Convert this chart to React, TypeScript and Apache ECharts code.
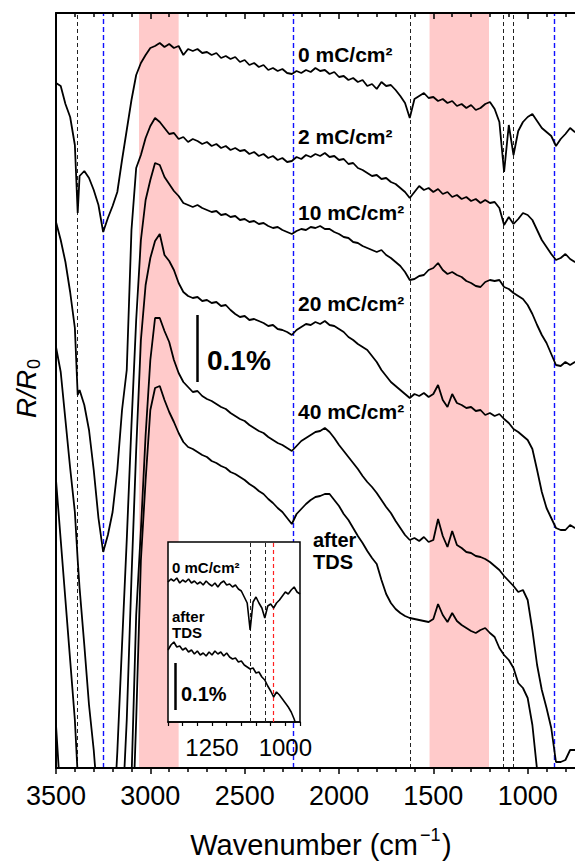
import React, { useEffect, useRef } from "react";
import * as echarts from "echarts";

// ---------------- data ----------------
// wavenumber grid (cm^-1) shared by the six main spectra
const wavenumbers = [
  3500, 3475, 3450, 3425, 3400, 3385, 3375, 3350, 3325, 3300, 3275, 3250, 3225, 3200, 3175, 3150,
  3125, 3100, 3075, 3050, 3025, 3000, 2975, 2950, 2925, 2900, 2875, 2850, 2825, 2800, 2775, 2750,
  2725, 2700, 2675, 2650, 2625, 2600, 2575, 2550, 2525, 2500, 2475, 2450, 2425, 2400, 2375, 2350,
  2325, 2300, 2275, 2250, 2225, 2200, 2175, 2150, 2125, 2100, 2075, 2050, 2025, 2000, 1975, 1950,
  1925, 1900, 1875, 1850, 1825, 1800, 1775, 1750, 1725, 1700, 1675, 1650, 1625, 1600, 1575, 1550,
  1525, 1500, 1475, 1450, 1425, 1400, 1375, 1350, 1325, 1300, 1275, 1250, 1225, 1200, 1175, 1150,
  1125, 1100, 1075, 1050, 1025, 1000, 975, 950, 925, 900, 875, 850, 825, 800, 775, 750, 725,
];

// offset R/R0 spectra (arbitrary offset units; 67 units = 0.1 %)
const spec0mC = [
  685, 682, 664, 651, 623, 555, 592, 597, 590, 578, 563, 536, 550, 562, 576, 608, 638, 668, 693, 705,
  713, 720, 722, 725, 721, 724, 720, 722, 713, 719, 717, 719, 715, 716, 713, 715, 710, 712, 709, 711,
  706, 708, 703, 705, 701, 703, 698, 700, 697, 699, 695, 694, 697, 695, 698, 696, 700, 697, 698, 694,
  696, 691, 692, 688, 690, 686, 688, 682, 684, 679, 686, 682, 683, 678, 672, 665, 650, 669, 672, 675,
  670, 671, 667, 669, 665, 667, 662, 664, 660, 663, 658, 660, 664, 666, 659, 646, 596, 643, 613, 637,
  646, 651, 654, 647, 640, 636, 632, 622, 629, 634, 640, 636, 638,
];
const spec2mC = [
  546, 528, 506, 476, 440, 373, 378, 363, 338, 298, 250, 216, 233, 256, 298, 358, 398, 538, 600, 613,
  630, 642, 650, 646, 640, 634, 635, 629, 631, 626, 629, 627, 624, 626, 622, 624, 620, 622, 618, 620,
  617, 618, 614, 616, 612, 614, 610, 612, 608, 610, 606, 607, 611, 609, 613, 611, 614, 612, 615, 611,
  612, 608, 609, 604, 605, 600, 598, 595, 592, 593, 589, 590, 586, 584, 580, 576, 570, 576, 582, 578,
  580, 576, 579, 574, 576, 571, 573, 569, 571, 567, 569, 565, 568, 565, 566, 560, 543, 551, 544, 549,
  555, 553, 548, 538, 528, 521, 514, 508, 510, 514, 509, 506, 508,
];
const spec10mC = [
  421, 396, 348, 300, 256, 208, 180, 123, 63, 18, -42, -82, -92, -72, 16, 123, 228, 343, 448, 528,
  568, 588, 605, 603, 591, 584, 577, 572, 565, 563, 561, 563, 560, 558, 556, 557, 553, 554, 551, 552,
  548, 549, 546, 547, 544, 545, 542, 540, 541, 538, 536, 534, 537, 539, 538, 541, 540, 542, 539, 539,
  536, 534, 531, 530, 526, 525, 522, 520, 518, 516, 518, 513, 510, 506, 502, 496, 488, 489, 492, 493,
  498, 500, 505, 498, 494, 496, 493, 491, 487, 485, 482, 481, 486, 488, 487, 488, 481, 479, 475, 472,
  469, 463, 454, 443, 433, 425, 414, 403, 402, 406, 403, 406, 404,
];
const spec20mC = [
  288, 228, 168, 108, 48, -7, -32, -72, -72, -72, -72, -72, -72, -72, -72, -52, 48, 190, 318, 428,
  483, 510, 527, 534, 513, 507, 498, 485, 476, 472, 470, 471, 467, 468, 465, 466, 462, 463, 458, 454,
  451, 452, 448, 449, 447, 445, 442, 443, 439, 438, 436, 433, 438, 441, 444, 443, 446, 444, 447, 443,
  442, 439, 436, 431, 428, 424, 421, 418, 412, 406, 398, 392, 386, 382, 378, 374, 370, 374, 372, 375,
  371, 374, 383, 368, 361, 374, 365, 363, 360, 361, 357, 358, 353, 355, 352, 354, 349, 345, 339, 336,
  332, 328, 319, 298, 276, 260, 250, 240, 238, 238, 243, 240, 242,
];
const spec40mC = [
  43, -32, -92, -92, -92, -92, -92, -92, -92, -92, -92, -92, -92, -92, -92, -92, -92, -12, 153, 238,
  333, 408, 450, 450, 437, 426, 408, 395, 386, 381, 376, 377, 372, 369, 367, 364, 361, 359, 355, 352,
  349, 347, 343, 340, 337, 335, 331, 328, 325, 323, 320, 317, 322, 327, 330, 333, 336, 337, 340, 336,
  330, 323, 317, 311, 305, 299, 292, 286, 281, 275, 268, 261, 255, 247, 240, 233, 228, 230, 227, 231,
  226, 228, 249, 232, 221, 237, 223, 220, 216, 215, 212, 211, 209, 206, 202, 198, 192, 187, 182, 176,
  178, 168, 138, 103, 78, 60, 40, 6, 6, 8, 18, 18, 20,
];
const specAfterTDS = [
  -132, -132, -132, -132, -132, -132, -132, -132, -132, -132, -132, -132, -132, -132, -132, -132, -132, -92, 48, 208,
  288, 358, 380, 382, 368, 356, 346, 335, 326, 321, 319, 316, 313, 311, 307, 305, 302, 300, 296, 294,
  291, 288, 284, 281, 277, 274, 269, 265, 260, 256, 250, 244, 254, 259, 264, 268, 271, 272, 274, 274,
  268, 262, 254, 248, 240, 232, 225, 217, 210, 204, 188, 174, 165, 159, 155, 152, 150, 149, 148, 147,
  146, 149, 164, 153, 146, 155, 147, 143, 140, 137, 135, 138, 140, 135, 131, 120, 113, 108, 100, 85,
  80, 70, 43, -2, -52, -132, -132, -132, -132, -132, -132, -132, -132,
];
const seriesLabels = ["0 mC/cm²", "2 mC/cm²", "10 mC/cm²", "20 mC/cm²", "40 mC/cm²", "after TDS"];

// inset (1400–950 cm^-1)
const insetWavenumbers = [
  1400, 1390, 1380, 1370, 1360, 1350, 1340, 1330, 1320, 1310, 1300, 1290, 1280, 1270, 1260, 1250,
  1240, 1230, 1220, 1210, 1200, 1190, 1180, 1170, 1160, 1150, 1140, 1130, 1120, 1110, 1100, 1090,
  1080, 1070, 1060, 1050, 1040, 1030, 1020, 1010, 1000, 990, 980, 970, 960, 950,
];
const inset0mC = [
  140, 143, 141, 144, 139, 142, 140, 143, 139, 141, 138, 140, 137, 141, 138, 136, 139, 135, 139, 141,
  137, 138, 135, 137, 133, 131, 125, 119, 92, 120, 125, 119, 114, 104, 116, 118, 114, 119, 122, 126,
  130, 128, 132, 135, 130, 128,
];
const insetAfterTDS = [
  72, 77, 80, 75, 76, 72, 74, 70, 72, 68, 71, 67, 69, 66, 70, 67, 71, 68, 70, 66,
  69, 65, 63, 64, 60, 61, 57, 55, 53, 54, 49, 50, 45, 42, 36, 31, 25, 30, 27, 23,
  19, 15, 10, 3, -6, -13,
];

// axes
const mainXMin = 500;
const mainXMax = 3500;
const mainXStep = 500;
const insetXMin = 950;
const insetXMax = 1400;
const insetXStep = 50;
const insetLabelTicks = [1250, 1000];

// annotations (cm^-1)
const pinkBands = [
  [3060, 2850],
  [1520, 1205],
];
const blackDashed = [3385, 1623, 1128, 1079];
const blueDashed = [3250, 2242, 858];
const insetBlackDashed = [1120, 1070];
const insetRedDashed = [1040];
const scaleBarMain = { wn: 2750, from: 386, to: 453 }; // 0.1 %
const scaleBarInset = { wn: 1376, from: 12, to: 59 }; // 0.1 %

const FONT = "'Liberation Sans', Arial, Helvetica, sans-serif";

function zip(xs: number[], ys: number[]) {
  return xs.map((x, i) => [x, ys[i]]);
}

export default function App() {
  const ref = useRef<HTMLDivElement>(null);

  useEffect(() => {
    if (!ref.current) return;
    const chart = echarts.init(ref.current, undefined, { renderer: "svg" });

    const mainSpectra = [spec0mC, spec2mC, spec10mC, spec20mC, spec40mC, specAfterTDS];

    const dashStyle = (color: string, w: number, dash: number[]) => ({
      color,
      width: w,
      type: dash,
    });

    const text = (
      t: string,
      x: number,
      y: number,
      size: number,
      weight: string,
      z: number,
      align = "left"
    ) => ({
      type: "text",
      x,
      y,
      z,
      silent: true,
      style: {
        text: t,
        fill: "#000",
        fontSize: size,
        fontWeight: weight,
        fontFamily: FONT,
        textAlign: align,
        align,
        textVerticalAlign: "middle",
        verticalAlign: "middle",
      },
    });

    const option: any = {
      animation: false,
      backgroundColor: "#fff",
      grid: [
        { left: 56, top: 13, width: 566, height: 755, z: 0, outerBoundsMode: "none", containLabel: false },
        {
          left: 168,
          top: 542,
          width: 132,
          height: 180,
          show: true,
          backgroundColor: "#fff",
          borderColor: "#000",
          borderWidth: 1.5,
          z: 10,
          outerBoundsMode: "none",
          containLabel: false,
        },
      ],
      xAxis: [
        {
          gridIndex: 0,
          type: "value",
          inverse: true,
          min: mainXMin,
          max: mainXMax,
          interval: mainXStep,
          position: "bottom",
          axisLine: { lineStyle: { color: "#000", width: 2 } },
          axisTick: { length: 6, lineStyle: { color: "#000", width: 1.5 } },
          minorTick: { show: true, splitNumber: 5, length: 4, lineStyle: { color: "#000", width: 1.5 } },
          axisLabel: {
            color: "#000",
            fontSize: 27,
            fontFamily: FONT,
            margin: 14,
            showMinLabel: false,
            formatter: (v: number) => String(v),
          },
          splitLine: { show: false },
          z: 4,
        },
        {
          gridIndex: 0,
          type: "value",
          inverse: true,
          min: mainXMin,
          max: mainXMax,
          interval: mainXStep,
          position: "top",
          axisLine: { lineStyle: { color: "#000", width: 2 } },
          axisTick: { inside: true, length: 6, lineStyle: { color: "#000", width: 1.5 } },
          minorTick: { show: true, splitNumber: 5, length: 4, lineStyle: { color: "#000", width: 1.5 } },
          axisLabel: { show: false },
          splitLine: { show: false },
          z: 4,
        },
        {
          gridIndex: 1,
          type: "value",
          inverse: true,
          min: insetXMin,
          max: insetXMax,
          interval: insetXStep,
          axisLine: { lineStyle: { color: "#000", width: 1.5 } },
          axisTick: { length: 4, lineStyle: { color: "#000", width: 1.2 } },
          axisLabel: {
            color: "#000",
            fontSize: 24,
            fontFamily: FONT,
            margin: 13,
            formatter: (v: number) => (insetLabelTicks.includes(v) ? String(v) : ""),
          },
          splitLine: { show: false },
          z: 11,
        },
      ],
      yAxis: [
        {
          gridIndex: 0,
          type: "value",
          min: 0,
          max: 755,
          axisLine: { show: true, lineStyle: { color: "#000", width: 2 } },
          axisTick: { show: false },
          axisLabel: { show: false },
          splitLine: { show: false },
          z: 4,
        },
        { gridIndex: 1, type: "value", min: 0, max: 180, show: false },
      ],
      series: [
        {
          type: "line",
          xAxisIndex: 0,
          yAxisIndex: 0,
          data: [],
          z: 1,
          silent: true,
          markArea: {
            silent: true,
            z: 1,
            itemStyle: { color: "#ffcaca", opacity: 1 },
            data: pinkBands.map(([a, b]) => [{ xAxis: a }, { xAxis: b }]),
          },
          markLine: {
            silent: true,
            z: 2,
            symbol: ["none", "none"],
            label: { show: false },
            data: [
              ...blackDashed.map((w) => ({ xAxis: w, lineStyle: dashStyle("#222", 1, [4, 3]) })),
              ...blueDashed.map((w) => ({ xAxis: w, lineStyle: dashStyle("#1010ff", 1.4, [5, 3]) })),
              [
                { coord: [scaleBarMain.wn, scaleBarMain.from], lineStyle: { color: "#000", width: 2.5, type: "solid" } },
                { coord: [scaleBarMain.wn, scaleBarMain.to] },
              ],
            ],
          },
        },
        ...mainSpectra.map((s, i) => ({
          name: seriesLabels[i],
          type: "line",
          xAxisIndex: 0,
          yAxisIndex: 0,
          data: zip(wavenumbers, s),
          showSymbol: false,
          symbol: "none",
          clip: true,
          z: 3,
          lineStyle: { color: "#000", width: 1.8 },
        })),
        {
          type: "line",
          xAxisIndex: 2,
          yAxisIndex: 1,
          data: [],
          z: 11,
          silent: true,
          markLine: {
            silent: true,
            z: 12,
            symbol: ["none", "none"],
            label: { show: false },
            data: [
              ...insetBlackDashed.map((w) => ({ xAxis: w, lineStyle: dashStyle("#222", 1, [4, 3]) })),
              ...insetRedDashed.map((w) => ({ xAxis: w, lineStyle: dashStyle("#ff2020", 1.2, [4, 3]) })),
              [
                { coord: [scaleBarInset.wn, scaleBarInset.from], lineStyle: { color: "#000", width: 2.5, type: "solid" } },
                { coord: [scaleBarInset.wn, scaleBarInset.to] },
              ],
            ],
          },
        },
        ...[inset0mC, insetAfterTDS].map((s) => ({
          type: "line",
          xAxisIndex: 2,
          yAxisIndex: 1,
          data: zip(insetWavenumbers, s),
          showSymbol: false,
          symbol: "none",
          clip: true,
          z: 13,
          lineStyle: { color: "#000", width: 1.6 },
        })),
      ],
      graphic: [
        text(seriesLabels[0], 298, 54, 21, "bold", 5),
        text(seriesLabels[1], 298, 136, 21, "bold", 5),
        text(seriesLabels[2], 298, 212, 21, "bold", 5),
        text(seriesLabels[3], 298, 303, 21, "bold", 5),
        text(seriesLabels[4], 298, 411, 21, "bold", 5),
        text("after", 313, 540, 20, "bold", 5),
        text("TDS", 313, 562, 20, "bold", 5),
        text("0.1%", 207, 360, 28, "bold", 5),
        text(seriesLabels[0], 172, 567, 15, "bold", 15),
        text("after", 172, 616, 15, "bold", 15),
        text("TDS", 172, 632, 15, "bold", 15),
        text("0.1%", 181, 694, 20, "bold", 15),
        text("Wavenumber (cm", 418, 845, 29, "normal", 5, "right"),
        text("−1", 420, 835, 18, "normal", 5),
        text(")", 442, 845, 29, "normal", 5),
        {
          type: "group",
          x: 26,
          y: 388,
          rotation: Math.PI / 2,
          z: 5,
          children: [
            {
              type: "text",
              x: -6,
              y: 0,
              style: {
                text: "R/R",
                fill: "#000",
                fontSize: 28,
                fontStyle: "italic",
                fontFamily: FONT,
                textAlign: "center",
                align: "center",
                textVerticalAlign: "middle",
                verticalAlign: "middle",
              },
            },
            {
              type: "text",
              x: 19,
              y: 8,
              style: {
                text: "0",
                fill: "#000",
                fontSize: 18,
                fontFamily: FONT,
                textAlign: "left",
                align: "left",
                textVerticalAlign: "middle",
                verticalAlign: "middle",
              },
            },
          ],
        },
      ],
    };

    chart.setOption(option);
    return () => chart.dispose();
  }, []);

  return (
    <div
      ref={ref}
      style={{ position: "absolute", left: 0, top: 0, width: 575, height: 863, overflow: "hidden" }}
    />
  );
}
